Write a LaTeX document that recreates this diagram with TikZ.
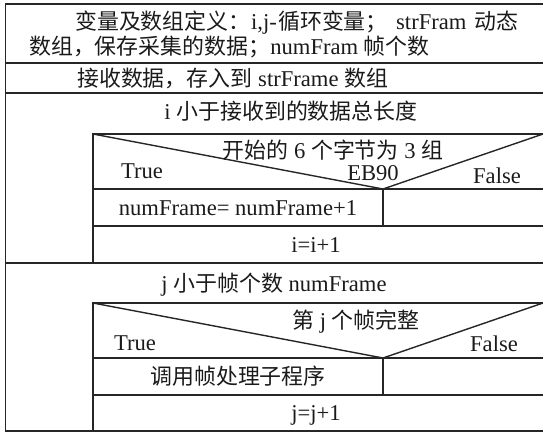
\documentclass[tikz,border=0pt]{standalone}
\usepackage{fontspec}
\setmainfont{Liberation Serif}
\newfontfamily\cjk[Scale=0.97]{Noto Sans CJK SC}
\definecolor{lc}{HTML}{262626}
\definecolor{tc}{HTML}{1A1A1A}
\begin{document}
\begin{tikzpicture}[x=1pt,y=-1pt]
\tikzset{
  ln/.style={draw=lc, line width=1.4pt, line cap=rect},
  txt/.style={inner sep=0pt, anchor=base, text=tc, font=\fontsize{22.6}{26}\selectfont},
  txtw/.style={txt, anchor=base west}
}
\useasboundingbox (0,0) rectangle (543,432);
% outer frame
\draw[ln] (543,4) -- (5.5,4) -- (5.5,431) -- (543,431);
\draw[ln] (5.5,63) -- (543,63);
\draw[ln] (5.5,93) -- (543,93);
\draw[ln] (5.5,263) -- (543,263);
% loop 1 body
\coordinate (a1) at (93,134);
\coordinate (m1) at (383,189);
\coordinate (r1) at (543,134);
\draw[ln] (a1) -- (r1);
\draw[ln] (a1) -- (93,263);
\draw[ln] (93,189) -- (543,189);
\draw[ln] (93,226) -- (543,226);
\draw[ln] (a1) -- (m1) -- (r1);
\draw[ln] (m1) -- (383,226);
% loop 2 body
\coordinate (a2) at (93,303);
\coordinate (m2) at (383,358);
\coordinate (r2) at (543,303);
\draw[ln] (a2) -- (r2);
\draw[ln] (a2) -- (93,431);
\draw[ln] (93,358) -- (543,358);
\draw[ln] (93,395) -- (543,395);
\draw[ln] (a2) -- (m2) -- (r2);
\draw[ln] (m2) -- (383,395);
% texts
\node[txtw] (t1a) at (75,29) {\cjk 变量及数组定义：};
\node[txtw] (t1b) at (251,29) {i,j-};
\node[txtw] (t1c) at (278,29) {\cjk 循环变量；};
\node[txtw] (t1d) at (396,29) {strFram};
\node[txtw] (t1e) at (474,29) {\cjk 动态};
\node[txtw] (t2) at (29,54) {{\cjk 数组，保存采集的数据；}numFram {\cjk 帧个数}};
\node[txtw] (t3) at (77,86) {{\cjk 接收数据，存入到} strFrame {\cjk 数组}};
\node[txt] (h1) at (291,119) {i {\cjk 小于接收到的数据总长度}};
\node[txt] (d1) at (333,158) {{\cjk 开始的} 6 {\cjk 个字节为} 3 {\cjk 组}};
\node[txt] (tr1) at (142,178) {True};
\node[txt] (eb) at (373,180) {EB90};
\node[txt] (f1) at (497,183) {False};
\node[txt] (n1) at (238,215) {numFrame= numFrame+1};
\node[txt] (i1) at (316,252) {i=i+1};
\node[txt] (h2) at (274,291) {j {\cjk 小于帧个数} numFrame};
\node[txt] (d2) at (356,328) {{\cjk 第} j {\cjk 个帧完整}};
\node[txt] (tr2) at (135,350) {True};
\node[txt] (f2) at (494,351) {False};
\node[txt] (c2) at (238,384) {\cjk 调用帧处理子程序};
\node[txt] (j2) at (316,420) {j=j+1};
\end{tikzpicture}
\end{document}
